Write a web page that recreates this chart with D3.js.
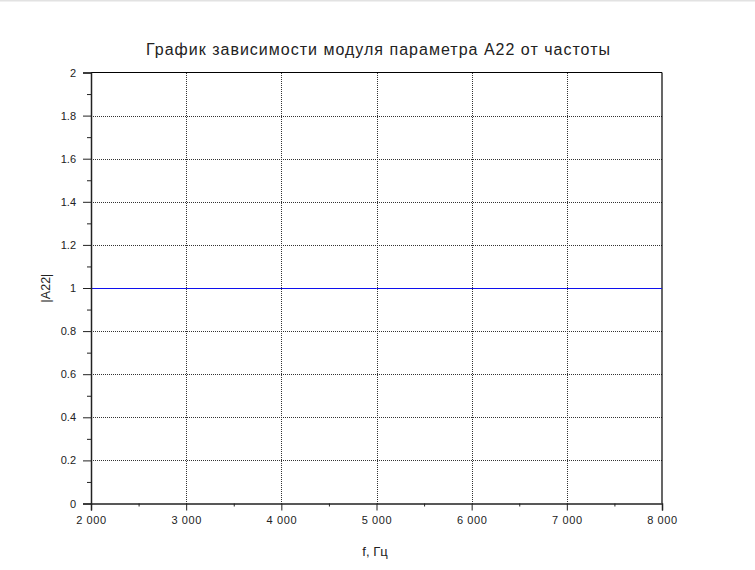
<!DOCTYPE html>
<html><head><meta charset="utf-8">
<script src="https://cdn.jsdelivr.net/npm/d3@7"></script>
<style>
html,body{margin:0;padding:0;background:#fff;}
svg{display:block;}
text{font-family:"Liberation Sans",Arial,sans-serif;fill:#222;}
</style></head>
<body>
<svg id="c" width="755" height="570"></svg>
<script>
const freq = [2000, 3000, 4000, 5000, 6000, 7000, 8000];
const a22 = [1, 1, 1, 1, 1, 1, 1];
const xTicks = [2000, 3000, 4000, 5000, 6000, 7000, 8000];
const yTicks = [0, 0.2, 0.4, 0.6, 0.8, 1, 1.2, 1.4, 1.6, 1.8, 2];
const xMinor = [2500, 3500, 4500, 5500, 6500, 7500];
const yMinor = [0.1, 0.3, 0.5, 0.7, 0.9, 1.1, 1.3, 1.5, 1.7, 1.9];
const title = "График зависимости модуля параметра A22 от частоты";
const xLabel = "f, Гц";
const yLabel = "|A22|";

const svg = d3.select("#c");
const L = 91, R = 662, T = 72.5, B = 503.5;
const x = d3.scaleLinear().domain([2000, 8000]).range([L, R]);
const y = d3.scaleLinear().domain([0, 2]).range([B, T]);
const loc = d3.formatLocale({decimal: ".", thousands: "\u00a0", grouping: [3], currency: ["", ""]});
const fx = loc.format(",d");

svg.append("rect").attr("x",0).attr("y",0).attr("width",755).attr("height",1.5).attr("fill","#e2e2e2");

// grid
const g = svg.append("g");
g.selectAll(".gx").data(xTicks.slice(1, -1)).join("line")
  .attr("x1", d => Math.round(x(d)) + 0.5).attr("x2", d => Math.round(x(d)) + 0.5)
  .attr("y1", Math.round(T)).attr("y2", Math.round(B))
  .attr("stroke", "#333").attr("stroke-width", 1).attr("stroke-dasharray", "1,1");
g.selectAll(".gy").data(yTicks.slice(1, -1)).join("line")
  .attr("y1", d => Math.round(y(d)) + 0.5).attr("y2", d => Math.round(y(d)) + 0.5)
  .attr("x1", L).attr("x2", R)
  .attr("stroke", "#333").attr("stroke-width", 1).attr("stroke-dasharray", "1,1");

// frame top/right
svg.append("line").attr("x1", L).attr("x2", R).attr("y1", T).attr("y2", T).attr("stroke", "#000").attr("stroke-width", 1.2);
svg.append("line").attr("x1", R).attr("x2", R).attr("y1", T).attr("y2", B).attr("stroke", "#000").attr("stroke-width", 1.2);

// data line
svg.append("path").datum(freq.map((f, i) => [f, a22[i]]))
  .attr("d", d3.line().x(d => x(d[0])).y(d => Math.round(y(d[1])) + 0.5))
  .attr("fill", "none").attr("stroke", "#1010ee").attr("stroke-width", 1);

// x axis
const xa = svg.append("g").attr("transform", `translate(0,${B})`)
  .call(d3.axisBottom(x).tickValues(xTicks).tickFormat(fx).tickSize(7).tickPadding(6));
xa.selectAll("text").attr("font-size", 11).attr("fill", "#222").attr("letter-spacing", 0.6);
const xm = svg.append("g").attr("transform", `translate(0,${B})`)
  .call(d3.axisBottom(x).tickValues(xMinor).tickFormat("").tickSize(3));
xm.select(".domain").remove();

// y axis
const ya = svg.append("g").attr("transform", `translate(${L},0)`)
  .call(d3.axisLeft(y).tickValues(yTicks).tickFormat(d => String(d)).tickSize(8).tickPadding(7));
ya.selectAll("text").attr("font-size", 11).attr("fill", "#222");
const ym = svg.append("g").attr("transform", `translate(${L},0)`)
  .call(d3.axisLeft(y).tickValues(yMinor).tickFormat("").tickSize(4));
ym.select(".domain").remove();

svg.selectAll(".domain").attr("stroke", "#222").attr("stroke-width", 1.5);
svg.selectAll(".tick line").attr("stroke", "#222");
svg.selectAll("text").attr("font-family", "'Liberation Sans',Arial,sans-serif");

svg.append("text").attr("x", 378).attr("y", 55).attr("text-anchor", "middle")
  .attr("font-size", 16).attr("textLength", 464).attr("lengthAdjust", "spacing").text(title);
svg.append("text").attr("x", 375).attr("y", 556).attr("text-anchor", "middle")
  .attr("font-size", 13).text(xLabel);
svg.append("text").attr("transform", "translate(50,288) rotate(-90)").attr("text-anchor", "middle")
  .attr("font-size", 12.5).text(yLabel);
</script>
</body></html>
